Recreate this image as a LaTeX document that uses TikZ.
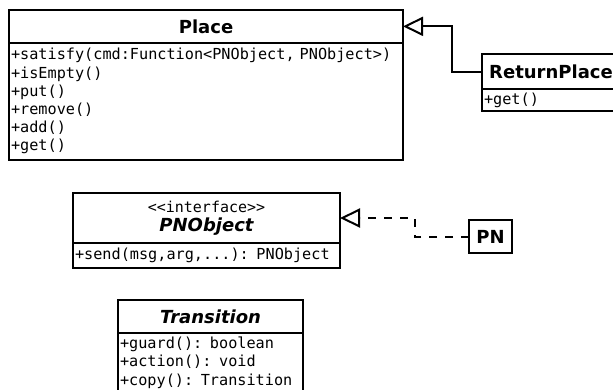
\documentclass[tikz,border=0pt]{standalone}
\usepackage{fontspec}
\setmainfont{DejaVu Sans}
\setmonofont{DejaVu Sans Mono}
\usetikzlibrary{arrows.meta}
\begin{document}
\begin{tikzpicture}[x=1pt,y=-1pt,
  box/.style={draw, line width=2pt, rectangle, inner sep=0pt, outer sep=0pt, anchor=north west},
  ttl/.style={box, font=\fontsize{18}{22}\selectfont\bfseries, align=center},
  ttli/.style={ttl, font=\fontsize{18}{22}\selectfont\bfseries\itshape},
  mth/.style={box, font=\fontsize{15.2}{18.2}\selectfont\ttfamily, align=left, inner xsep=2pt},
  inh/.style={line width=2pt, -{Triangle[open, length=20pt, width=19pt]}},
  real/.style={inh, dash pattern=on 8pt off 8pt},
]
\useasboundingbox (0,0) rectangle (613,389);
\clip (0,0) rectangle (613,389);
\fill[white] (0,0) rectangle (613,389);

% Place
\node[ttl, minimum width=394pt, minimum height=32.7pt] (placeT) at (9,10) {Place};
\node[mth, text width=390pt, minimum height=117.3pt] (placeM) at (placeT.south west)
  {+satisfy(cmd:Function<PNObject, PNObject>)\\+isEmpty()\\+put()\\+remove()\\+add()\\+get()};

% ReturnPlace
\node[ttl, minimum width=138pt, minimum height=35pt] (rpT) at (482,54) {ReturnPlace};
\node[mth, text width=134pt, minimum height=22pt] (rpM) at (rpT.south west) {+get()};

% PNObject
\node[box, minimum width=267pt, minimum height=50pt, align=center] (pnoT) at (73,193)
  {{\fontsize{15}{22}\selectfont\ttfamily <\kern0pt<interface>\kern0pt>}\\[4pt]
   {\fontsize{18}{22}\selectfont\bfseries\itshape PNObject}};
\node[mth, text width=263pt, minimum height=25pt] (pnoM) at (pnoT.south west)
  {+send(msg,arg,...): PNObject};

% PN
\node[ttl, minimum width=43pt, minimum height=33pt] (pn) at (469,220) {PN};

% Transition
\node[ttli, minimum width=185pt, minimum height=32.7pt] (trT) at (118,300) {Transition};
\node[mth, text width=181pt, minimum height=60pt] (trM) at (trT.south west)
  {+guard(): boolean\\+action(): void\\+copy(): Transition};

% connectors
\draw[inh] (rpT.west) -- ++(-30,0) |- (placeT.east);
\draw[real] (pn.west) -- ++(-54,0) |- (pnoT.east);
\end{tikzpicture}
\end{document}
